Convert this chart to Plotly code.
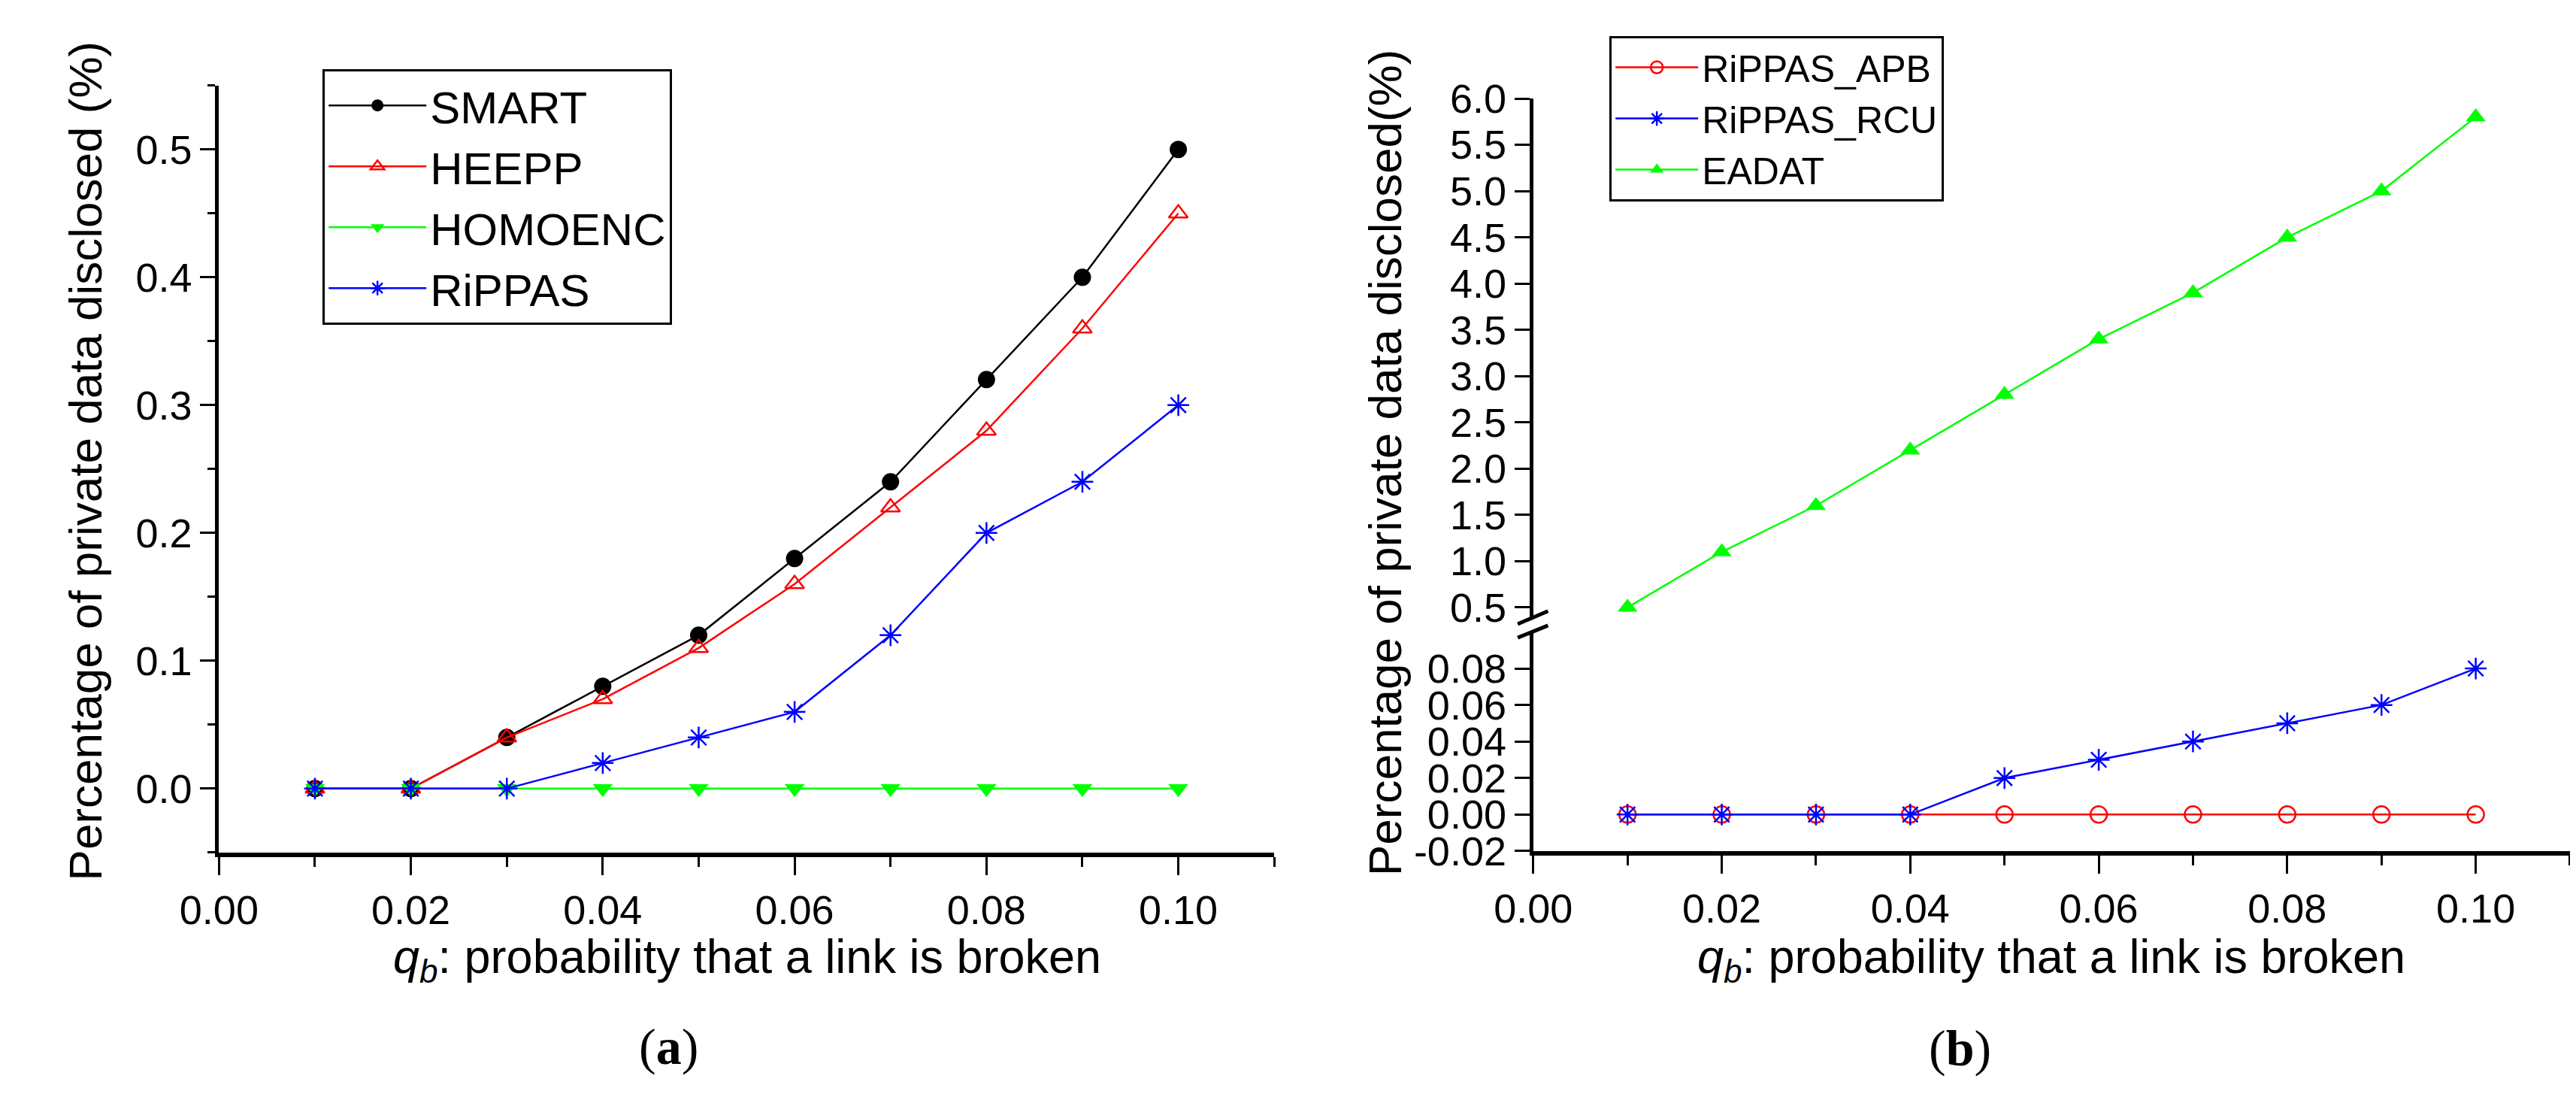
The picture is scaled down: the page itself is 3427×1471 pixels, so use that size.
import plotly.graph_objects as go

# --- data ---
qb = [0.01, 0.02, 0.03, 0.04, 0.05, 0.06, 0.07, 0.08, 0.09, 0.10]

# panel (a)
smart = [0, 0, 0.04, 0.08, 0.12, 0.18, 0.24, 0.32, 0.40, 0.50]
heepp = [0, 0, 0.04, 0.07, 0.11, 0.16, 0.22, 0.28, 0.36, 0.45]
homoenc = [0, 0, 0, 0, 0, 0, 0, 0, 0, 0]
rippas = [0, 0, 0, 0.02, 0.04, 0.06, 0.12, 0.20, 0.24, 0.30]

# panel (b)
rippas_apb = [0, 0, 0, 0, 0, 0, 0, 0, 0, 0]
rippas_rcu = [0, 0, 0, 0, 0.02, 0.03, 0.04, 0.05, 0.06, 0.08]
eadat = [0.5, 1.1, 1.6, 2.2, 2.8, 3.4, 3.9, 4.5, 5.0, 5.8]

# ticks
x_ticks = [0.00, 0.02, 0.04, 0.06, 0.08, 0.10]
x_minor = [0.01, 0.03, 0.05, 0.07, 0.09, 0.11]
ya_ticks = [0.0, 0.1, 0.2, 0.3, 0.4, 0.5]
ya_minor = [-0.05, 0.05, 0.15, 0.25, 0.35, 0.45, 0.55]
yb_low_ticks = [-0.02, 0.00, 0.02, 0.04, 0.06, 0.08]
yb_high_ticks = [0.5, 1.0, 1.5, 2.0, 2.5, 3.0, 3.5, 4.0, 4.5, 5.0, 5.5, 6.0]

y_title_a = "Percentage of private data disclosed (%)"
y_title_b = "Percentage of private data disclosed(%)"
x_title = "<i>q</i><sub><i>b</i></sub>: probability that a link is broken"

W, H = 3411, 1455  # page body has an 8px margin


def fx(p):
    return (p - 8) / W


def fy(p):
    return 1 - (p - 8) / H


SANS = "Liberation Sans, Arial, sans-serif"
NARROW = "Liberation Sans Narrow, Arial Narrow, Liberation Sans, Arial, sans-serif"
SERIF = "Liberation Serif, Times New Roman, serif"

fig = go.Figure()


def add(x, y, name, color, symbol, xa, ya, legend, size=23):
    open_sym = symbol.endswith("open")
    fig.add_trace(go.Scatter(
        x=x, y=y, name=name, mode="lines+markers",
        xaxis=xa, yaxis=ya, legend=legend,
        line=dict(color=color, width=2.5),
        marker=dict(symbol=symbol, size=size, color=color,
                    line=dict(color=color, width=2.5 if open_sym else 0)),
    ))


add(qb, smart, "SMART", "black", "circle", "x", "y", "legend")
add(qb, heepp, "HEEPP", "#ff0000", "triangle-up-open", "x", "y", "legend", 22)
add(qb, homoenc, "HOMOENC", "#00ff00", "triangle-down", "x", "y", "legend", 23)
add(qb, rippas, "RiPPAS", "#0000ff", "asterisk-open", "x", "y", "legend", 24)

add(qb, rippas_apb, "RiPPAS_APB", "#ff0000", "circle-open", "x2", "y3", "legend2", 22)
add(qb, rippas_rcu, "RiPPAS_RCU", "#0000ff", "asterisk-open", "x2", "y3", "legend2", 24)
add(qb, eadat, "EADAT", "#00ff00", "triangle-up", "x2", "y4", "legend2", 23)

tickfont = dict(family=NARROW, size=54, color="black")
common = dict(showline=True, linecolor="black", showgrid=False, zeroline=False,
              ticks="outside", tickcolor="black", tickwidth=3, tickfont=tickfont)

xa_common = dict(common, range=[0, 0.11], tickvals=x_ticks,
                 ticktext=["%.2f" % v for v in x_ticks], ticklen=24, linewidth=6,
                 minor=dict(tickvals=x_minor, ticks="outside", ticklen=13,
                            tickwidth=3, tickcolor="black"))

fig.update_layout(
    xaxis=dict(xa_common, domain=[fx(242), fx(1668)], anchor="y"),
    yaxis=dict(common, domain=[fy(1151), fy(87)], anchor="x", range=[-0.05, 0.55],
               tickvals=ya_ticks, ticktext=["%.1f" % v for v in ya_ticks],
               ticklen=20, linewidth=5,
               minor=dict(tickvals=ya_minor, ticks="outside", ticklen=10,
                          tickwidth=3, tickcolor="black")),
    xaxis2=dict(xa_common, domain=[fx(2018), 1.0], anchor="y3"),
    yaxis3=dict(common, domain=[fy(1149), fy(845)], anchor="x2", range=[-0.02, 0.1],
                tickvals=yb_low_ticks, ticktext=["%.2f" % v for v in yb_low_ticks],
                ticklen=20, linewidth=5),
    yaxis4=dict(common, domain=[fy(826), fy(105)], anchor="x2", range=[0.383, 6.0],
                tickvals=yb_high_ticks, ticktext=["%.1f" % v for v in yb_high_ticks],
                ticklen=20, linewidth=5),
    legend=dict(x=fx(382), y=fy(64), xanchor="left", yanchor="top",
                bordercolor="black", borderwidth=3, bgcolor="white",
                font=dict(family=SANS, size=60, color="black"),
                itemwidth=130, tracegroupgap=0),
    legend2=dict(x=fx(2121), y=fy(18), xanchor="left", yanchor="top",
                 bordercolor="black", borderwidth=3, bgcolor="white",
                 font=dict(family=SANS, size=50, color="black"),
                 itemwidth=110, tracegroupgap=0),
    width=W, height=H,
    margin=dict(l=0, r=0, t=0, b=0),
    paper_bgcolor="white", plot_bgcolor="white",
    showlegend=True,
)

annotations = [
    dict(text=y_title_a, x=fx(61), y=fy(608), textangle=-90,
         font=dict(family=SANS, size=62, color="black")),
    dict(text=y_title_b, x=fx(1817), y=fy(610), textangle=-90,
         font=dict(family=SANS, size=62, color="black")),
    dict(text=x_title, x=fx(956), y=fy(1300),
         font=dict(family=SANS, size=63, color="black")),
    dict(text=x_title, x=fx(2718), y=fy(1300),
         font=dict(family=SANS, size=63, color="black")),
    dict(text="(<b>a</b>)", x=fx(850), y=fy(1420),
         font=dict(family=SERIF, size=68, color="black")),
    dict(text="(<b>b</b>)", x=fx(2595), y=fy(1422),
         font=dict(family=SERIF, size=68, color="black")),
]
for a in annotations:
    a.update(xref="paper", yref="paper", showarrow=False,
             xanchor="center", yanchor="middle")
fig.update_layout(annotations=annotations)

# axis break marks on the right panel
for y0, y1 in [(834, 816), (853, 836)]:
    fig.add_shape(type="line", xref="paper", yref="paper",
                  x0=fx(1997), x1=fx(2038), y0=fy(y0), y1=fy(y1),
                  line=dict(color="black", width=5))

fig.write_html("out.html")
